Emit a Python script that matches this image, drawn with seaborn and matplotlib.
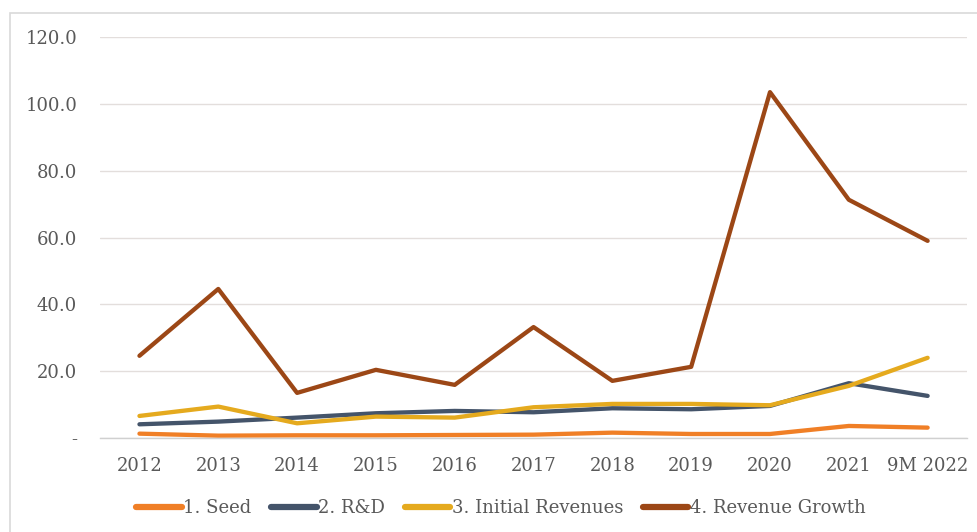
import pandas as pd
import matplotlib
matplotlib.use("Agg")
import matplotlib.pyplot as plt
import matplotlib.patches as mpatches
import seaborn as sns

years = ["2012", "2013", "2014", "2015", "2016", "2017", "2018", "2019", "2020", "2021", "9M 2022"]
seed = [1.3, 0.7, 0.8, 0.8, 0.9, 1.0, 1.6, 1.2, 1.2, 3.6, 3.1]
rnd = [4.1, 4.9, 6.1, 7.4, 8.1, 7.7, 8.9, 8.6, 9.6, 16.4, 12.6]
initial_rev = [6.6, 9.4, 4.4, 6.4, 6.1, 9.2, 10.2, 10.2, 9.8, 15.6, 24.0]
rev_growth = [24.6, 44.6, 13.5, 20.4, 15.9, 33.2, 17.1, 21.3, 103.5, 71.3, 59.0]

series_names = ["1. Seed", "2. R&D", "3. Initial Revenues", "4. Revenue Growth"]
colors = ["#F07F26", "#44546A", "#E5AA1E", "#9C4716"]

# long-form table for seaborn
rows = []
for name, vals in zip(series_names, [seed, rnd, initial_rev, rev_growth]):
    for yr, v in zip(years, vals):
        rows.append({"year": yr, "value": v, "series": name})
df = pd.DataFrame(rows)

sns.set_style("white")
plt.rcParams["font.family"] = ["DejaVu Serif"]

fig = plt.figure(figsize=(9.77, 5.32), dpi=100)
ax = fig.add_axes([0.1024, 0.1767, 0.8874, 0.7537])

sns.lineplot(data=df, x="year", y="value", hue="series", palette=colors,
             linewidth=3.1, sort=False, ax=ax, legend=False)

ax.set_xlim(-0.5, len(years) - 0.5)
ax.set_ylim(0, 120)
ax.set_yticks([0, 20, 40, 60, 80, 100, 120])
ax.set_yticklabels(["-", "20.0", "40.0", "60.0", "80.0", "100.0", "120.0"])
ax.set_xticks(range(len(years)))
ax.set_xticklabels(years)
ax.set_xticks([i - 0.5 for i in range(len(years) + 1)], minor=True)
ax.tick_params(axis="x", which="major", length=0, pad=14, labelsize=13, colors="#595959")
ax.tick_params(axis="x", which="minor", length=6, width=1, color="#D0D0D0", direction="out")
ax.tick_params(axis="y", length=0, pad=16.5, labelsize=13, colors="#595959")
ax.set_xlabel("")
ax.set_ylabel("")

ax.grid(axis="y", color="#E3DEDC", linewidth=1)
ax.set_axisbelow(True)
for s in ["top", "right", "left"]:
    ax.spines[s].set_visible(False)
ax.spines["bottom"].set_color("#D0D0D0")
ax.spines["bottom"].set_linewidth(1)

handles = [plt.Line2D([], [], color=c, linewidth=4.5, solid_capstyle="round") for c in colors]
fig.legend(handles, series_names, loc="center", bbox_to_anchor=(0.513, 0.045), ncol=4,
           frameon=False, fontsize=13, handlelength=2.5, handletextpad=0.1,
           columnspacing=1.1, labelcolor="#595959")

# outer chart frame
frame = mpatches.Rectangle((10 / 977, -0.05), 1.2, 1.05 - 13 / 532, transform=fig.transFigure,
                           fill=False, edgecolor="#D9D9D9", linewidth=1.2)
fig.patches.append(frame)

fig.savefig("out.png", dpi=100)
